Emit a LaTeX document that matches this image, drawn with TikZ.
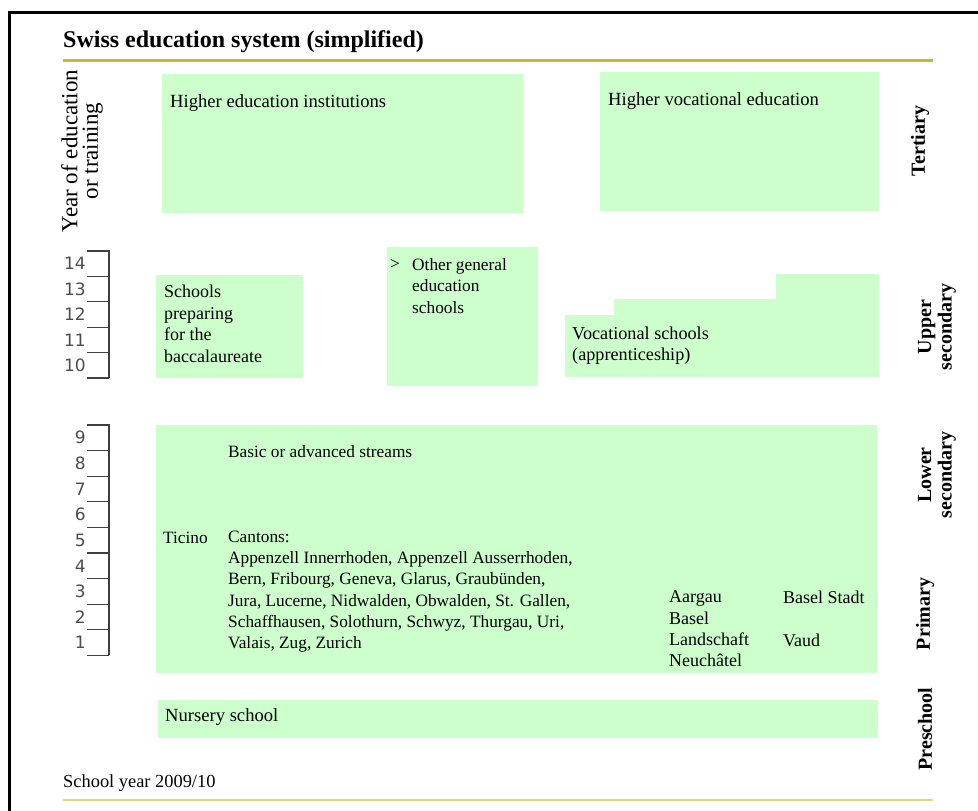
\documentclass[tikz,border=0pt]{standalone}
\usepackage{fontspec}
\setmainfont{Liberation Serif}
\newfontfamily\numfont{DejaVu Sans}
\usepackage{xcolor}
\definecolor{paleGreen}{RGB}{204,255,204}
\definecolor{oliveRule}{RGB}{198,186,44}
\definecolor{sandRule}{RGB}{228,210,135}

\begin{document}
\begin{tikzpicture}[x=1pt,y=-1pt,
  box/.style={fill=paleGreen,draw=none,inner sep=0pt,anchor=north west},
  txt/.style={anchor=west,inner sep=0pt,align=left,font=\fontsize{18.6}{21.5}\selectfont},
  small/.style={txt,font=\fontsize{17.3}{21.3}\selectfont},
  tier/.style={rotate=90,align=center,inner sep=0pt,font=\fontsize{20}{20.5}\selectfont\bfseries},
  yr/.style={anchor=east,inner sep=0pt,text=black!70,font=\numfont\fontsize{17}{17}\selectfont},
  bracket/.style={draw=black!75,line width=1.3pt}]
\useasboundingbox (0,0) rectangle (978,811);

% Frame and rules
\draw[line width=3pt] (9,811) -- (9,12) -- (978,12);
\node[anchor=base west,inner sep=0pt,font=\fontsize{24}{24}\selectfont\bfseries] (title) at (63,47) {Swiss education system (simplified)};
\draw[oliveRule,line width=3pt] (63,60) -- (933,60);
\draw[sandRule,line width=2pt] (63,800) -- (933,800);
\node[anchor=base west,inner sep=0pt,font=\fontsize{18.4}{18}\selectfont] (year) at (63,787) {School year 2009/10};

% Axis title
\node[rotate=90,align=center,inner sep=0pt,font=\fontsize{23}{20.5}\selectfont] (axis) at (82,151) {Year of education\\or training};

% Tertiary
\node[box,minimum width=361pt,minimum height=139pt] (hei) at (162,74) {};
\node[txt,anchor=base west] (heit) at (170,107) {Higher education institutions};
\node[box,minimum width=279pt,minimum height=139pt] (hve) at (600,72) {};
\node[txt,anchor=base west] (hvet) at (608,105) {Higher vocational education};

% Upper secondary
\node[box,minimum width=147pt,minimum height=103pt] (bac) at (156,275) {};
\node[txt,font=\fontsize{18}{21.5}\selectfont] (bact) at (164,324) {Schools\\preparing\\for the\\baccalaureate};
\node[box,minimum width=151pt,minimum height=139pt] (oges) at (387,247) {};
\node[small] (gt) at (390,265) {>};
\node[small] (ogest) at (412,286) {Other general\\education\\schools};
\fill[paleGreen] (565,377) -- (565,315) -- (614,315) -- (614,299) -- (776,299)
  -- (776,274) -- (879,274) -- (879,377) -- cycle;
\node[txt,font=\fontsize{18.2}{21.5}\selectfont] (voc) at (572,345.5) {Vocational schools\\(apprenticeship)};

% Lower secondary and primary
\node[box,minimum width=721pt,minimum height=248pt] (comp) at (156,425) {};
\node[small] (streams) at (228,452) {Basic or advanced streams};
\node[small] (ticino) at (163,538) {Ticino};
\node[small] (cantons) at (228,591.5) {Cantons:\\Appenzell Innerrhoden, Appenzell Ausserrhoden,\\Bern, Fribourg, Geneva, Glarus, Graubünden,\\Jura, Lucerne, Nidwalden, Obwalden, St. Gallen,\\Schaffhausen, Solothurn, Schwyz, Thurgau, Uri,\\Valais, Zug, Zurich};
\node[txt,font=\fontsize{18}{21.3}\selectfont] (aargau) at (669,629) {Aargau\\Basel\\Landschaft\\Neuchâtel};
\node[txt,font=\fontsize{18}{21.3}\selectfont] (bstadt) at (783,597) {Basel Stadt};
\node[txt,font=\fontsize{18}{21.3}\selectfont] (vaud) at (783,640) {Vaud};

% Preschool
\node[box,minimum width=720pt,minimum height=38pt] (nur) at (158,700) {};
\node[txt] (nurt) at (165,717) {Nursery school};

% Level labels
\node[tier] (ter) at (920,141) {Tertiary};
\node[tier] (upp) at (937,327) {Upper\\secondary};
\node[tier] (low) at (937,475) {Lower\\secondary};
\node[tier] (pri) at (925,614) {Primary};
\node[tier] (pre) at (925,729) {Preschool};

% Years 10 to 14
\draw[bracket] (87,251) -- (109,251) -- (109,378);
\foreach \n [count=\i from 0] in {14,13,12,11,10} {
  \node[yr] (y\n) at (86,{263.7+\i*25.4}) {\n};
  \draw[bracket] (87,{251+(\i+1)*25.4}) -- (109,{251+(\i+1)*25.4});
}

% Years 1 to 9
\draw[bracket] (87,425) -- (109,425) -- (109,655.4);
\foreach \n [count=\i from 0] in {9,...,1} {
  \node[yr] (y\n) at (86,{437.8+\i*25.6}) {\n};
  \draw[bracket] (87,{425+(\i+1)*25.6}) -- (109,{425+(\i+1)*25.6});
}
\end{tikzpicture}
\end{document}
